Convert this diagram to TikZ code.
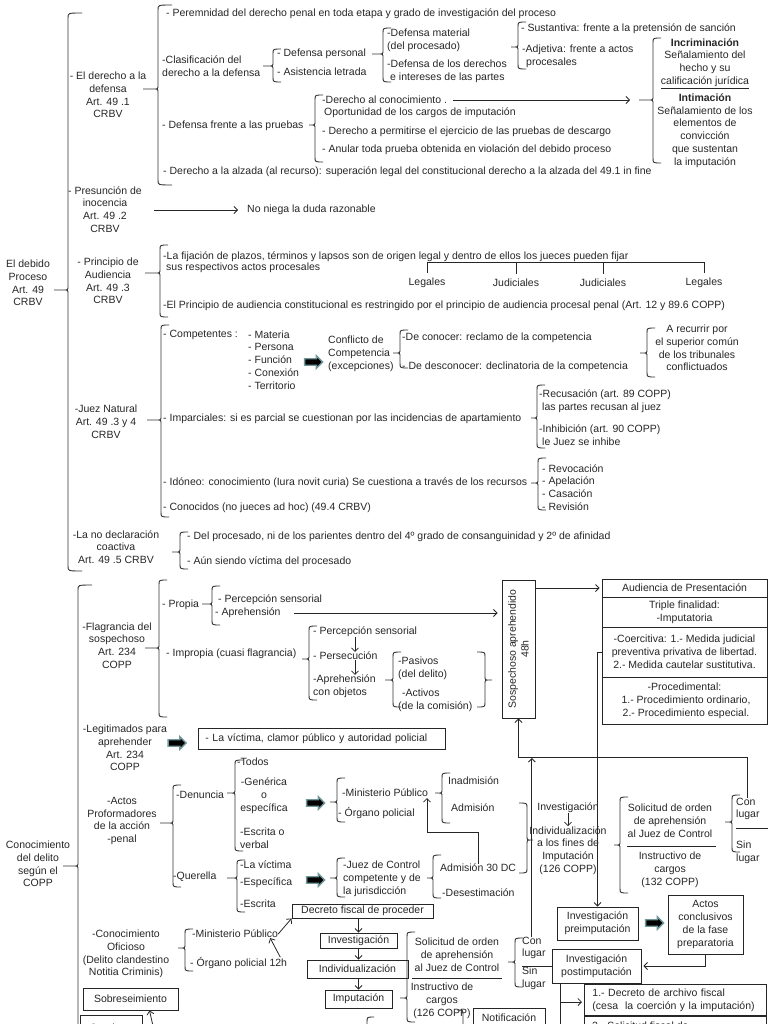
\documentclass[tikz,border=0pt]{standalone}
\usepackage{fontspec}
\setmainfont{Liberation Sans}
\usetikzlibrary{arrows.meta,calc,positioning,shapes.arrows}
\definecolor{rim}{RGB}{112,152,154}
% opening and closing braces: [curl]{x}{top}{bottom}{tip y}{tip x}
\newcommand{\openbr}[6][8]{\draw[brk] ({#2+#1},#3) .. controls (#2,#3) .. (#2,#3+5) -- (#2,#5-4)
  .. controls (#2,#5) .. (#2-4,#5) -- (#6,#5) -- (#2-4,#5) .. controls (#2,#5) .. (#2,#5+4)
  -- (#2,#4-5) .. controls (#2,#4) .. ({#2+#1},#4);}
\newcommand{\closebr}[6][8]{\draw[brk] ({#2-#1},#3) .. controls (#2,#3) .. (#2,#3+5) -- (#2,#5-4)
  .. controls (#2,#5) .. (#2+4,#5) -- (#6,#5) -- (#2+4,#5) .. controls (#2,#5) .. (#2,#5+4)
  -- (#2,#4-5) .. controls (#2,#4) .. ({#2-#1},#4);}

\begin{document}
\begin{tikzpicture}[x=1pt,y=-1pt,>={Straight Barb[length=3.5pt,width=7pt]},
    every node/.style={font=\fontsize{10.5}{12.8}\selectfont,text=black!85},
    txt/.style={anchor=west,inner sep=0pt,align=left},
    ctxt/.style={inner sep=0pt,align=center},
    brk/.style={draw=black!80,line width=0.9pt},
    box/.style={draw=black!85,line width=0.9pt,inner sep=0pt,align=center},
    link/.style={draw=black!85,line width=0.8pt},
    fat/.style={single arrow,fill=black,draw=rim,line width=1.3pt,inner xsep=0pt,
      inner ysep=2.6pt,minimum height=18pt,single arrow head extend=3pt}]
  \useasboundingbox (0,0) rectangle (768,1024);

  % El debido proceso
  \node[ctxt] (debido) at (28,283) {El debido\\Proceso\\Art. 49\\CRBV};
  \openbr[14]{68}{13}{571}{290}{54}

  \node[ctxt] (defensa) at (108,95) {- El derecho a la\\defensa\\Art. 49 .1\\CRBV};
  \openbr[14]{158}{5}{185}{89}{143}
  \node[txt] (peremnidad) at (166,14) {- Peremnidad del derecho penal en toda etapa y grado de investigación del proceso};
  \node[txt] (clasif) at (162,66) {-Clasificación del\\derecho a la defensa};
  \openbr{273}{49}{82}{66}{263}
  \node[txt] (personal) at (277,54) {- Defensa personal};
  \node[txt] (letrada) at (277,72) {- Asistencia letrada};
  \openbr{383}{28}{82}{54}{372}
  \node[txt] (material) at (387,40) {-Defensa material\\(del procesado)};
  \node[txt] (partes) at (387,71) {-Defensa de los derechos\\\hspace*{3pt}e intereses de las partes};
  \openbr{518}{22}{69}{47}{511}
  \node[txt] (sustantiva) at (521,29) {- Sustantiva: frente a la pretensión de sanción};
  \node[txt] (adjetiva) at (522,56) {-Adjetiva: frente a actos\\\hspace*{4pt}procesales};

  \node[txt] (pruebas) at (162,126) {- Defensa frente a las pruebas};
  \openbr{315}{95}{162}{125}{309}
  \node[txt] (conoc1) at (322,100) {-Derecho al conocimiento .};
  \node[txt] (conoc2) at (324,113) {Oportunidad de los cargos de imputación};
  \node[txt] (descargo) at (322,132) {- Derecho a permitirse el ejercicio de las pruebas de descargo};
  \node[txt] (anular) at (322,150) {- Anular toda prueba obtenida en violación del debido proceso};
  \node[txt] (alzada) at (163,172) {- Derecho a la alzada (al recurso): superación legal del constitucional derecho a la alzada del 49.1 in fine};
  \coordinate (intimtip) at (630,100);
  \draw[->,link] ([xshift=6pt]conoc1.east) -- (intimtip);
  \openbr{653}{38}{163}{100}{639}
  \node[ctxt] (incrim) at (705,63.5) {\textbf{Incriminación}\\Señalamiento del\\hecho y su\\\underline{calificación jurídica}};
  \node[ctxt] (intim) at (705,130.5) {\textbf{Intimación}\\Señalamiento de los\\elementos de\\convicción\\que sustentan\\la imputación};

  \node[ctxt] (presuncion) at (105,209.5) {- Presunción de\\inocencia\\Art. 49 .2\\CRBV};
  \node[txt] (duda) at (247,210) {No niega la duda razonable};
  \draw[->,link] ([xshift=12pt]presuncion.east |- duda.west) -- ([xshift=-9pt]duda.west);

  \node[ctxt] (audiencia) at (108,281) {- Principio de\\Audiencia\\Art. 49 .3\\CRBV};
  \openbr{160}{245}{317}{273}{145}
  \node[txt] (fijacion1) at (163,257) {-La fijación de plazos, términos y lapsos son de origen legal y dentro de ellos los jueces pueden fijar};
  \node[txt] (fijacion2) at (166,268) {sus respectivos actos procesales};
  \node[ctxt] (legal1) at (427,283) {Legales};
  \node[ctxt] (judicial1) at (516,283) {Judiciales};
  \node[ctxt] (judicial2) at (603,283) {Judiciales};
  \node[ctxt] (legal2) at (704,283) {Legales};
  \foreach \n in {legal1,judicial1,judicial2,legal2}
    \draw[link] ([yshift=5pt]\n.north) -- ++(0,-11);
  \draw[link] ([yshift=16pt]legal1.north) -- ([yshift=16pt]legal2.north);
  \node[txt] (restringido) at (163,306) {-El Principio de audiencia constitucional es restringido por el principio de audiencia procesal penal (Art. 12 y 89.6 COPP)};

  \node[ctxt] (juez) at (106,422) {-Juez Natural\\Art. 49 .3 y 4\\CRBV};
  \openbr{161}{325}{517}{420}{147}
  \node[txt] (competentes) at (163,335) {- Competentes :};
  \node[txt] (materias) at (248,360) {- Materia\\- Persona\\- Función\\- Conexión\\- Territorio};
  \node[txt] (conflicto) at (328,354) {Conflicto de\\Competencia\\(excepciones)};
  \openbr{400}{330}{368}{353}{393}
  \node[txt] (deconocer) at (402,338) {-De conocer: reclamo de la competencia};
  \node[txt] (desconocer) at (402,367) {- De desconocer: declinatoria de la competencia};
  \openbr{647}{328}{377}{353}{640}
  \node[ctxt] (recurrir) at (697,348) {A recurrir por\\el superior común\\de los tribunales\\conflictuados};
  \node[txt] (imparciales) at (163,419) {- Imparciales: si es parcial se cuestionan por las incidencias de apartamiento};
  \openbr{537}{385}{448}{418}{531}
  \node[txt] (recusacion) at (539,401.5) {-Recusación (art. 89 COPP)\\\hspace*{3pt}las partes recusan al juez};
  \node[txt] (inhibicion) at (539,435) {-Inhibición (art. 90 COPP)\\\hspace*{3pt}le Juez se inhibe};
  \node[txt] (idoneo) at (163,483) {- Idóneo: conocimiento (Iura novit curia) Se cuestiona a través de los recursos};
  \openbr{538}{458}{510}{483}{531}
  \node[txt] (recursos) at (542,487.5) {- Revocación\\- Apelación\\- Casación\\- Revisión};
  \node[txt] (conocidos) at (163,508) {- Conocidos (no jueces ad hoc) (49.4 CRBV)};

  \node[ctxt] (coactiva) at (116,547) {-La no declaración\\coactiva\\Art. 49 .5 CRBV};
  \openbr{180}{532}{569}{552}{172}
  \node[txt] (parientes) at (187,537) {- Del procesado, ni de los parientes dentro del 4º grado de consanguinidad y 2º de afinidad};
  \node[txt] (victima) at (187,562) {- Aún siendo víctima del procesado};

  % Conocimiento del delito
  \node[ctxt] (conocimiento) at (38,864) {Conocimiento\\del delito\\según el\\COPP};
  \openbr[14]{78}{585}{1060}{866}{63}

  \node[ctxt] (flagrancia) at (117,645.5) {-Flagrancia del\\sospechoso\\Art. 234\\COPP};
  \openbr{159}{580}{717}{648}{145}
  \node[txt] (propia) at (162,605) {- Propia};
  \openbr{212}{586}{625}{604}{202}
  \node[txt] (percep1) at (218,600) {- Percepción sensorial};
  \node[txt] (aprehension) at (215,613) {- Aprehensión};
  \node[txt] (impropia) at (166,654) {- Impropia (cuasi flagrancia)};
  \openbr{309}{626}{700}{659}{302}
  \node[txt] (percep2) at (313,632) {- Percepción sensorial};
  \node[txt] (persecucion) at (313,656) {- Persecución};
  \node[txt] (objetos) at (313,686.5) {-Aprehensión\\con objetos};
  \draw[->,link] ([xshift=42pt]percep2.south west) -- ([xshift=42pt]persecucion.north west);
  \draw[->,link] ([xshift=42pt]persecucion.south west) -- ([xshift=42pt]objetos.north west);
  \openbr{393}{652}{707}{680}{385}
  \node[txt] (pasivos) at (398,668.5) {-Pasivos\\(del delito)};
  \node[txt] (activos) at (398,700) {\hspace*{4pt}-Activos\\(de la comisión)};
  \closebr{485}{652}{707}{680}{492}

  \node[box,minimum width=33pt,minimum height=138pt] (sosp) at (518.5,649) {};
  \node[ctxt,rotate=90] (sosptxt) at (sosp.center) {Sospechoso aprehendido\\48h};
  \draw[->,link] ([xshift=13pt]aprehension.east) -- ([xshift=-4pt]aprehension.east -| sosp.west);

  \node[box,minimum width=165pt,minimum height=18pt] (aud1) at (684.5,588) {Audiencia de Presentación};
  \node[box,minimum width=165pt,minimum height=30pt] (aud2) at (684.5,612) {Triple finalidad:\\-Imputatoria};
  \node[box,minimum width=165pt,minimum height=50pt] (aud3) at (684.5,652) {-Coercitiva: 1.- Medida judicial\\preventiva privativa de libertad.\\2.- Medida cautelar sustitutiva.};
  \node[box,minimum width=165pt,minimum height=47pt] (aud4) at (684.5,700.5) {-Procedimental:\\\hspace*{3pt}1.- Procedimiento ordinario,\\\hspace*{3pt}2.- Procedimiento especial.};
  \draw[->,link] (sosp.east |- aud1.west) -- ([xshift=-2pt]aud1.west);

  \node[ctxt] (legitimados) at (125,748) {-Legitimados para\\aprehender\\Art. 234\\COPP};
  \node[box,anchor=west,minimum height=21pt,text width=233pt,inner xsep=7pt,align=left] (victimas) at (198,738.5) {- La víctima, clamor público y autoridad policial};

  \node[ctxt] (actos) at (122,821) {-Actos\\Proformadores\\de la acción\\-penal};
  \openbr{173}{785}{887}{823}{160}
  \node[txt] (denuncia) at (176,795) {-Denuncia};
  \openbr{235}{760}{851}{793}{227}
  \node[txt] (todos) at (237,762) {-Todos};
  \node[ctxt] (generica) at (264,795.5) {-Genérica\\o\\específica};
  \node[txt] (escrita1) at (240,838.5) {-Escrita o\\verbal};
  \openbr{337}{778}{822}{802}{330}
  \node[txt] (mp1) at (342,793) {-Ministerio Público};
  \node[txt] (organo1) at (338,813) {- Órgano policial};
  \openbr{442}{773}{823}{793}{435}
  \node[txt] (inadmision) at (448,781) {Inadmisión};
  \node[txt] (admision) at (451,808) {Admisión};

  \node[txt] (querella) at (173,877) {-Querella};
  \openbr{237}{860}{912}{878}{227}
  \node[txt] (victima2) at (240,865) {-La víctima};
  \node[txt] (especifica) at (240,883) {-Específica};
  \node[txt] (escrita2) at (240,904) {-Escrita};
  \openbr{337}{858}{897}{878}{330}
  \node[txt] (juezcontrol) at (343,878.5) {-Juez de Control\\competente y de\\la jurisdicción};
  \openbr{433}{855}{898}{878}{427}
  \node[txt] (admision30) at (440,868) {Admisión 30 DC};
  \node[txt] (desestimacion) at (442,893) {-Desestimación};
  \coordinate (mpup) at (427,798);
  \draw[->,link] (admision30.north) -- ++(0,-31) -| (mpup);
  \closebr{527}{803}{873}{840}{533}

  \foreach \nm/\x/\y in {fata/312/362,fatb/175.5/743,fatc/314/803,fatd/314/880,fate/653/923}
    \node[fat] (\nm) at (\x,\y) {};

  \node[ctxt] (invest1) at (568,808) {Investigación};
  \node[ctxt] (indiv1) at (568,850.5) {Individualización\\a los fines de\\Imputación\\(126 COPP)};
  \draw[->,link] (invest1.south) -- (indiv1.north);
  \openbr{620}{797}{893}{845}{614}
  \node[ctxt] (solicitud1) at (670,821) {Solicitud de orden\\de aprehensión\\al Juez de Control};
  \draw[link] (627,846) -- (716,846);
  \node[ctxt] (instructivo1) at (670,869.5) {Instructivo de\\cargos\\(132 COPP)};
  \openbr{732}{795}{852}{822}{725}
  \node[txt] (con1) at (736,809) {Con\\lugar};
  \draw[link] (736,828) -- (768,828);
  \node[txt] (sin1) at (736,852.5) {Sin\\lugar};

  \node[box,minimum width=81pt,minimum height=33pt] (preimp) at (597.5,923.5) {Investigación\\preimputación};
  \node[box,minimum width=75pt,minimum height=59pt] (actosbox) at (705.5,924.5) {Actos\\conclusivos\\de la fase\\preparatoria};
  \node[box,minimum width=89pt,minimum height=34pt] (postimp) at (596.5,966) {Investigación\\postimputación};
  \draw[->,link] (actosbox.south) |- ([xshift=2pt]postimp.east);
  \draw[->,link] (aud3.west) -| (preimp.north);

  % middle column
  \node[box,minimum width=141pt,minimum height=14pt] (decreto) at (362.5,911) {Decreto fiscal de proceder};
  \node[box,minimum width=77pt,minimum height=15pt] (invest2) at (358.5,940.5) {Investigación};
  \node[box,minimum width=101pt,minimum height=18pt] (indiv2) at (357.5,969) {Individualización};
  \node[box,minimum width=67pt,minimum height=18pt] (imput) at (358.5,999) {Imputación};
  \draw[->,link] (decreto.south -| invest2.north) -- (invest2.north);
  \draw[->,link] (invest2.south) -- (invest2.south |- indiv2.north);
  \draw[->,link] (indiv2.south -| imput.north) -- (imput.north);
  \openbr{407}{932}{1022}{998}{400}
  \node[ctxt] (solicitud2) at (457,954.5) {Solicitud de orden\\de aprehensión\\al Juez de Control};
  \draw[link] (412,978) -- (502,978);
  \node[ctxt] (instructivo2) at (442,1001) {Instructivo de\\cargos\\(126 COPP)};
  \openbr{515}{938}{987}{962}{508}
  \node[txt] (con2) at (522,948) {Con\\lugar};
  \draw[link] (522,966) -- (postimp.west);
  \node[txt] (sin2) at (522,978.5) {Sin\\lugar};
  \coordinate (busA) at (600,757);
  \draw[->,link] (con1.north) -- (con1.north |- busA) -| (sosp.south);
  \draw[->,link,shorten >=1pt] ([xshift=-2pt]con2.north) -- ([xshift=-2pt]con2.north |- busA);
  \node[ctxt] (notif) at (509,1018) {Notificación};
  \draw[link] (473,1008) rectangle (545,1040);
  \draw[brk] (374,1017) .. controls (367,1017) .. (367,1022) -- (367,1030);
  \draw[brk] (457,1010) .. controls (463,1010) .. (463,1015) -- (463,1030);

  \coordinate (postdown) at (560,1002);
  \node[box,anchor=north west,minimum height=31pt,text width=166pt,inner xsep=8pt,align=left] (archivo) at (584,984) {1.- Decreto de archivo fiscal\\(cesa\ \ la coerción y la imputación)};
  \draw[link] (postimp.south -| postdown) -- ++(0,50);
  \draw[->,link] (postdown) -- ([xshift=-2pt]postdown -| archivo.west);
  \draw[link] (archivo.south west) rectangle ++(182,30);
  \node[txt] (solfiscal) at (592,1026) {2.- Solicitud fiscal de};

  \node[ctxt] (oficioso) at (126,954) {-Conocimiento\\Oficioso\\(Delito clandestino\\Notitia Criminis)};
  \openbr{185}{929}{971}{948}{178}
  \node[txt] (mp2) at (192,934) {-Ministerio Público};
  \node[txt] (organo2) at (190,963) {- Órgano policial 12h};
  \draw[->,link] (mp2.east) -- (decreto.south west);
  \draw[->,link] ([xshift=-7pt]organo2.north east) -- ([xshift=-8pt]mp2.south east);

  \node[box,minimum width=95pt,minimum height=22pt] (sobre) at (130.5,999) {Sobreseimiento};
  \coordinate (sobrein) at (153,1026);
  \draw[->,link] (sobrein) -- ([xshift=19pt]sobre.south);
  \node[box,anchor=north,minimum width=62pt,minimum height=24pt] (condena) at (111,1015) {Condena};
\end{tikzpicture}
\end{document}
